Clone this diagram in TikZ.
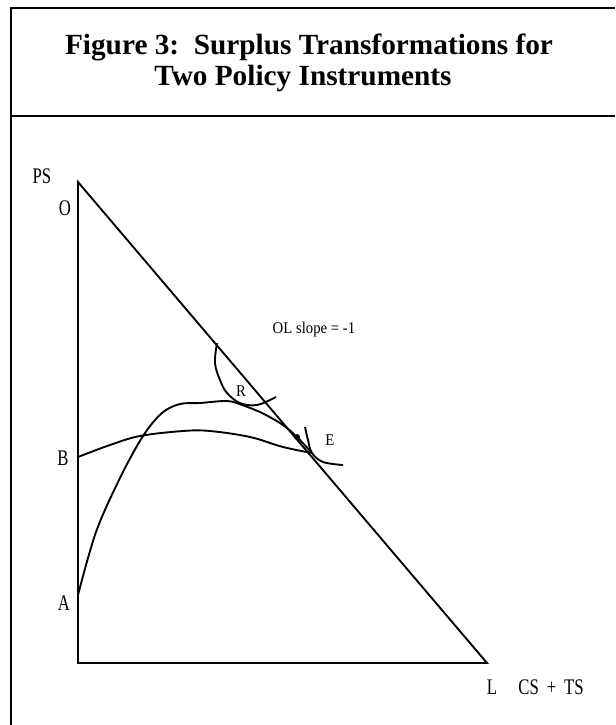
\documentclass[tikz,border=0pt]{standalone}
\usepackage{fontspec}
\setmainfont{Liberation Serif}
\newfontfamily\lblfont[FakeStretch=0.75]{Liberation Serif}
\newfontfamily\notefont[FakeStretch=0.9]{Liberation Serif}
\begin{document}
\begin{tikzpicture}[x=0.3mm,y=-0.3mm,line width=1.6pt,
  big/.style={font=\lblfont\fontsize{19}{22}\selectfont,anchor=base},
  small/.style={font=\notefont\fontsize{14}{16}\selectfont,anchor=base},
  head/.style={font=\fontsize{25}{30}\selectfont\bfseries,anchor=base}]
\useasboundingbox (0,0) rectangle (615,725);
\draw (11,725) -- (11,8) -- (615,8);
\draw (11,116) -- (615,116);
\node[head] (title1) at (309,55) {Figure 3:\ \ Surplus Transformations for};
\node[head] (title2) at (303,85) {Two Policy Instruments};

\coordinate (O) at (78,182);
\coordinate (L) at (487,663);
\coordinate (orig) at (78,663);
\coordinate (B) at (78,457);
\coordinate (A) at (78,595);
\coordinate (E) at (312,453);
\draw (O) -- (orig) -- (L) -- cycle;

\draw plot[smooth,tension=0.55] coordinates {(A) (96,532) (120,478) (143,436) (162,413) (180,404) (200,403) (227,401) (242,405) (262,413) (283,425) (297,437) (E)};
\draw plot[smooth,tension=0.6] coordinates {(B) (110,445) (140,436) (183,431) (210,431) (250,437) (283,447) (E)};
\draw plot[smooth,tension=0.6] coordinates {(217,343) (215,363) (220,380) (227,393) (240,403) (257,405) (276,397)};
\draw plot[smooth,tension=0.6] coordinates {(305,427) (308,440) (E) (323,462) (343,465)};
\fill (297,437) circle[radius=3];

\node[big] (ps) at (42,183) {PS};
\node[big] (o) at (65,215) {O};
\node[big] (b) at (63,465) {B};
\node[big] (a) at (64,610) {A};
\node[big] (l) at (492,694) {L};
\node[big] (cs) at (551,694) {CS\, + \,TS};
\node[small] (r) at (241,396) {R};
\node[small] (e) at (330,445) {E};
\node[small] (slope) at (314,333) {OL slope = -1};
\end{tikzpicture}
\end{document}
